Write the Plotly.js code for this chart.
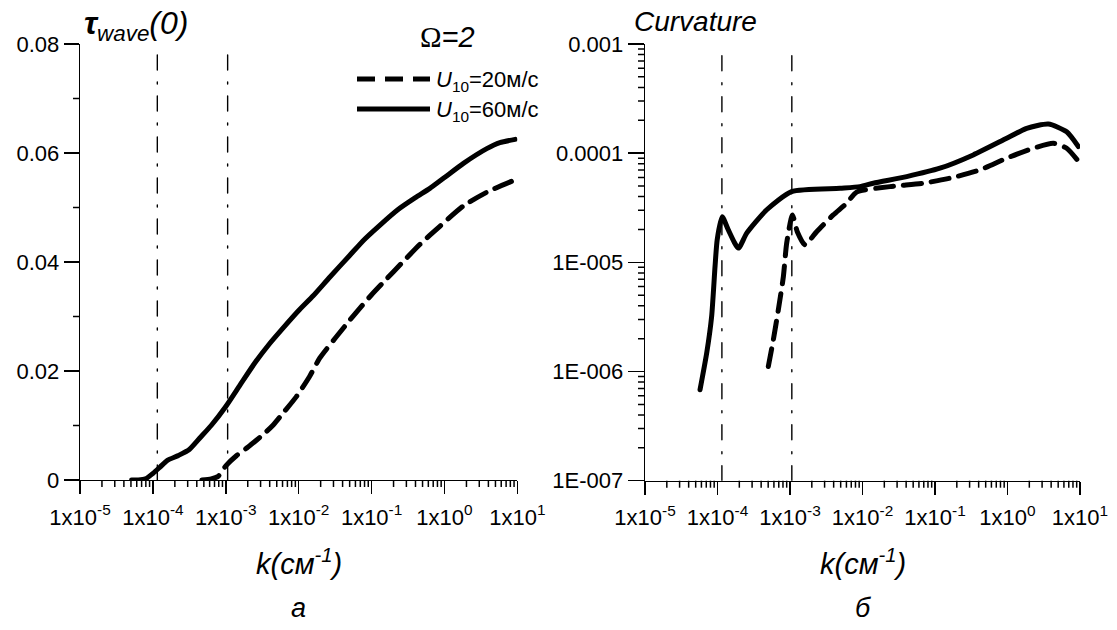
<!DOCTYPE html>
<html><head><meta charset="utf-8">
<script src="https://cdn.plot.ly/plotly-3.0.1.min.js"></script>
<style>html,body{margin:0;padding:0;background:#fff}
path.js-line{stroke-linecap:round;stroke-linejoin:round}</style>
</head><body><div id="chart" style="width:1117px;height:630px"></div>
<script>
// ---- data (k in cm^-1) ----
const tau60K = [5.1e-5,6.3e-5,7.9e-5,1.0e-4,1.26e-4,1.58e-4,2.24e-4,3.16e-4,4.47e-4,6.3e-4,1.0e-3,1.58e-3,2.51e-3,3.98e-3,6.3e-3,1.0e-2,1.58e-2,2.7e-2,5.0e-2,7.9e-2,0.126,0.224,0.398,0.63,1.0,1.82,3.8,5.75,9.3];
const tau60V = [0,0,0.0002,0.0012,0.0024,0.0036,0.0045,0.0056,0.0078,0.0100,0.0135,0.0175,0.0215,0.0250,0.0281,0.0311,0.0338,0.0373,0.0412,0.0441,0.0466,0.0495,0.0518,0.0535,0.0555,0.0581,0.0608,0.0619,0.0625];
const tau20K = [4.7e-4,6.3e-4,7.9e-4,1.0e-3,1.41e-3,2.0e-3,2.63e-3,3.55e-3,4.47e-3,6.3e-3,9.3e-3,1.41e-2,1.95e-2,3.16e-2,5.0e-2,6.6e-2,0.1,0.158,0.251,0.457,0.871,1.82,3.8,8.3];
const tau20V = [0,0.0002,0.0007,0.0026,0.0045,0.0060,0.0073,0.0088,0.0101,0.0125,0.0153,0.0190,0.0224,0.0260,0.0293,0.0312,0.0340,0.0368,0.0396,0.0432,0.0466,0.0503,0.0528,0.0548];
const curv60K = [5.74e-5,7.1e-5,8.3e-5,9.25e-5,9.9e-5,1.16e-4,1.41e-4,1.94e-4,2.53e-4,4.78e-4,1.05e-3,4.9e-3,9.2e-3,1.41e-2,4.07e-2,0.117,0.337,0.975,1.84,3.66,6.55,9.5];
const curv60V = [6.8e-7,1.48e-6,3.19e-6,9.2e-6,1.61e-5,2.62e-5,1.98e-5,1.35e-5,1.85e-5,3.03e-5,4.45e-5,4.77e-5,4.94e-5,5.31e-5,6.1e-5,7.28e-5,9.64e-5,1.37e-4,1.69e-4,1.85e-4,1.57e-4,1.15e-4];
const curv20K = [5.02e-4,5.89e-4,6.9e-4,8.1e-4,9.0e-4,1.08e-3,1.26e-3,1.61e-3,2.33e-3,3.95e-3,6.05e-3,8.3e-3,2.39e-2,6.9e-2,0.161,0.418,0.975,2.27,4.29,6.55,9.98];
const curv20V = [1.11e-6,1.95e-6,3.67e-6,7.4e-6,1.5e-5,2.72e-5,1.91e-5,1.45e-5,1.91e-5,2.72e-5,3.48e-5,4.4e-5,4.94e-5,5.31e-5,5.9e-5,7.03e-5,9.0e-5,1.11e-4,1.23e-4,1.11e-4,8.1e-5];
const markK = [1.15e-4, 1.06e-3];
const markTauTop = 0.0795, markCurvTop = 8.8e-4;
const xTickVals = [1e-5,1e-4,1e-3,1e-2,1e-1,1e0,1e1];
const xTickText = ['1x10<sup>-5</sup>','1x10<sup>-4</sup>','1x10<sup>-3</sup>','1x10<sup>-2</sup>','1x10<sup>-1</sup>','1x10<sup>0</sup>','1x10<sup>1</sup>'];
const tauTickVals = [0,0.02,0.04,0.06,0.08];
const tauTickText = ['0','0.02','0.04','0.06','0.08'];
const tauMinor = [0.01,0.03,0.05,0.07];
const curvTickVals = [1e-7,1e-6,1e-5,1e-4,1e-3];
const curvTickText = ['1E-007','1E-006','1E-005','0.0001','0.001'];
const legendNames = ['U<sub>10</sub>=20м/с','U<sub>10</sub>=60м/с'];

// minor log ticks (2..9 in each decade)
function logMinor(lo, hi){ const a=[]; for(let e=lo;e<hi;e++){ for(let m=2;m<=9;m++) a.push(m*Math.pow(10,e)); } return a; }
const xMinor = logMinor(-5,1), yMinorCurv = logMinor(-7,-3);

const FONT = 'Liberation Sans, Arial, sans-serif';
const W = 1117, H = 630;
const px = x => x/W, py = y => 1 - y/H;
const DASH = '18px,10px';
const DASHDOT = '15px,12px,2px,12px';
// plot-area edges (px)
const L = {x0:80, x1:517.4, yb:480, yt:44};
const R = {x0:645, x1:1080, yb:480.7, yt:44};
const MINOR_LEN = 7;

const traces = [];
function vlines(xa, ya, bottom, top){
  markK.forEach(k => traces.push({x:[k,k], y:[bottom,top], xaxis:xa, yaxis:ya, mode:'lines',
    line:{color:'#000', width:1.4, dash:DASHDOT}, showlegend:false, hoverinfo:'skip'}));
}
vlines('x','y',0,markTauTop);
vlines('x2','y2',1e-7,markCurvTop);
const curve = (x,y,xa,ya,dash,name) => ({x, y, xaxis:xa, yaxis:ya, mode:'lines', name, showlegend:false,
  line:{color:'#000', width:5, dash, shape:'spline', smoothing:0.6}});
traces.push(curve(tau20K, tau20V, 'x','y', DASH, legendNames[0]));
traces.push(curve(tau60K, tau60V, 'x','y', 'solid', legendNames[1]));
traces.push(curve(curv20K, curv20V, 'x2','y2', DASH, legendNames[0]));
traces.push(curve(curv60K, curv60V, 'x2','y2', 'solid', legendNames[1]));

// minor tick marks, placed through the axes' own scales
const shapes = [];
const tickLine = {color:'#000', width:1.5};
xMinor.forEach(v => {
  shapes.push({type:'line', layer:'above', xref:'x', yref:'paper', x0:v, x1:v, y0:py(L.yb), y1:py(L.yb+MINOR_LEN), line:tickLine});
  shapes.push({type:'line', layer:'above', xref:'x2', yref:'paper', x0:v, x1:v, y0:py(R.yb), y1:py(R.yb+MINOR_LEN), line:tickLine});
});
tauMinor.forEach(v => shapes.push({type:'line', layer:'above', xref:'paper', yref:'y', x0:px(L.x0-MINOR_LEN), x1:px(L.x0), y0:v, y1:v, line:tickLine}));
yMinorCurv.forEach(v => shapes.push({type:'line', layer:'above', xref:'paper', yref:'y2', x0:px(R.x0-MINOR_LEN), x1:px(R.x0), y0:v, y1:v, line:tickLine}));
// legend keys
shapes.push({type:'line', xref:'paper', yref:'paper', x0:px(357), x1:px(430), y0:py(79), y1:py(79), line:{color:'#000', width:5, dash:DASH}});
shapes.push({type:'line', xref:'paper', yref:'paper', x0:px(357), x1:px(430), y0:py(109), y1:py(109), line:{color:'#000', width:5}});

const tf = {family:FONT, size:22, color:'#000'};
const base = {showline:true, linecolor:'#000', linewidth:1.3, ticks:'outside', tickwidth:1.4, tickcolor:'#000',
  tickmode:'array', tickfont:tf, showgrid:false, zeroline:false};
const layout = {
  width:W, height:H, margin:{l:0,r:0,t:0,b:0}, paper_bgcolor:'#fff', plot_bgcolor:'rgba(0,0,0,0)',
  showlegend:false, font:{family:FONT, color:'#000'},
  xaxis: Object.assign({}, base, {type:'log', range:[-5,1], domain:[px(L.x0),px(L.x1)], anchor:'y', tickvals:xTickVals, ticktext:xTickText, ticklen:13, ticklabelstandoff:4}),
  xaxis2: Object.assign({}, base, {type:'log', range:[-5,1], domain:[px(R.x0),px(R.x1)], anchor:'y2', tickvals:xTickVals, ticktext:xTickText, ticklen:13, ticklabelstandoff:4}),
  yaxis: Object.assign({}, base, {range:[0,0.08], domain:[py(L.yb),py(L.yt)], anchor:'x', tickvals:tauTickVals, ticktext:tauTickText, ticklen:15}),
  yaxis2: Object.assign({}, base, {type:'log', range:[-7,-3], domain:[py(R.yb),py(R.yt)], anchor:'x2', tickvals:curvTickVals, ticktext:curvTickText, ticklen:16}),
  shapes,
  annotations:[
    {xref:'paper', yref:'paper', x:px(82), y:py(26), xanchor:'left', yanchor:'middle', showarrow:false,
      text:'<i><b>τ</b><sub>wave</sub>(0)</i>', font:{family:FONT, size:32, color:'#000'}},
    {xref:'paper', yref:'paper', x:px(632), y:py(22), xanchor:'left', yanchor:'middle', showarrow:false,
      text:'<i>Curvature</i>', font:{family:FONT, size:28, color:'#000'}},
    {xref:'paper', yref:'paper', x:px(447), y:py(37), xanchor:'center', yanchor:'middle', showarrow:false,
      text:'<span style="font-family:Liberation Serif">Ω</span><i>=2</i>', font:{family:FONT, size:29, color:'#000'}},
    {xref:'paper', yref:'paper', x:px(434), y:py(81), xanchor:'left', yanchor:'middle', showarrow:false,
      text:'<i>U</i>'+legendNames[0].slice(1), font:{family:FONT, size:22, color:'#000'}},
    {xref:'paper', yref:'paper', x:px(434), y:py(111), xanchor:'left', yanchor:'middle', showarrow:false,
      text:'<i>U</i>'+legendNames[1].slice(1), font:{family:FONT, size:22, color:'#000'}},
    {xref:'paper', yref:'paper', x:px(298.7), y:py(562), xanchor:'center', yanchor:'middle', showarrow:false,
      text:'<i>k(см<sup>-1</sup>)</i>', font:{family:FONT, size:29, color:'#000'}},
    {xref:'paper', yref:'paper', x:px(862.5), y:py(562), xanchor:'center', yanchor:'middle', showarrow:false,
      text:'<i>k(см<sup>-1</sup>)</i>', font:{family:FONT, size:29, color:'#000'}},
    {xref:'paper', yref:'paper', x:px(298.7), y:py(608), xanchor:'center', yanchor:'middle', showarrow:false,
      text:'<i>а</i>', font:{family:FONT, size:27, color:'#000'}},
    {xref:'paper', yref:'paper', x:px(862.5), y:py(608), xanchor:'center', yanchor:'middle', showarrow:false,
      text:'<i>б</i>', font:{family:FONT, size:27, color:'#000'}}
  ]
};
Plotly.newPlot('chart', traces, layout, {staticPlot:true, displayModeBar:false});
</script></body></html>
